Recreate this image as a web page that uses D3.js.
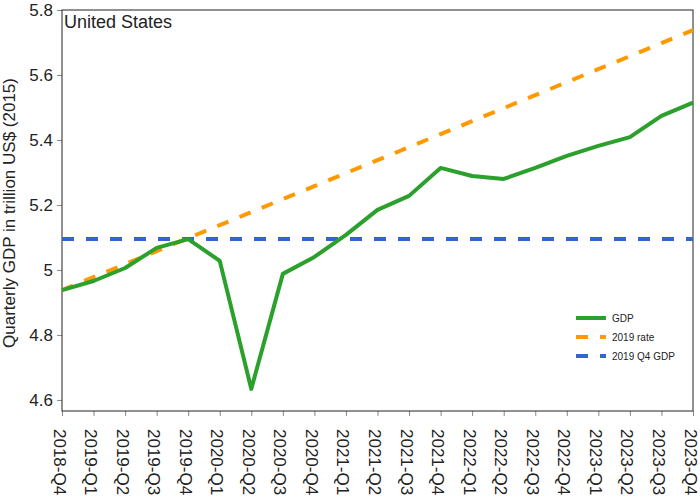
<!DOCTYPE html>
<html><head><meta charset="utf-8">
<script src="https://cdn.jsdelivr.net/npm/d3@7"></script>
<style>body{margin:0;background:#fff;} text{font-family:"Liberation Sans",Arial,sans-serif;}</style>
</head><body>
<svg id="c" width="700" height="500"></svg>
<script>
const quarters = ["2018-Q4","2019-Q1","2019-Q2","2019-Q3","2019-Q4","2020-Q1","2020-Q2","2020-Q3","2020-Q4","2021-Q1","2021-Q2","2021-Q3","2021-Q4","2022-Q1","2022-Q2","2022-Q3","2022-Q4","2023-Q1","2023-Q2","2023-Q3","2023-Q4"];
const gdp = [4.938,4.966,5.006,5.068,5.095,5.028,4.634,4.988,5.040,5.108,5.185,5.228,5.314,5.289,5.280,5.314,5.351,5.382,5.409,5.474,5.515];
const rate2019 = [4.938,4.978,5.018,5.058,5.098,5.138,5.178,5.218,5.258,5.298,5.338,5.378,5.418,5.458,5.498,5.538,5.578,5.618,5.658,5.698,5.738];
const q4GDP = 5.095;
const yTicks = [4.6,4.8,5,5.2,5.4,5.6,5.8];
const seriesNames = ["GDP","2019 rate","2019 Q4 GDP"];
const colors = ["#2ca02c","#ff9900","#3366cc"];

const svg = d3.select("#c");
const L=62,R=693,T=10,B=411;
const x = d3.scalePoint().domain(quarters).range([L,R]);
const y = d3.scaleLinear().domain([4.566,5.8]).range([B,T]);
const ink="#222";

// axes
const ya = svg.append("g").attr("transform",`translate(${L},0)`).call(d3.axisLeft(y).tickValues(yTicks).tickFormat(d3.format("")).tickSize(5).tickPadding(4));
ya.select(".domain").remove();
ya.selectAll(".tick line").attr("stroke","#888");
ya.selectAll("text").attr("font-size",17).attr("fill",ink).attr("font-family","Liberation Sans, Arial, sans-serif");

const xa = svg.append("g").attr("transform",`translate(0,${B})`).call(d3.axisBottom(x).tickSize(5));
xa.select(".domain").remove();
xa.selectAll(".tick line").attr("stroke","#888");
xa.selectAll("text").attr("font-size",17).attr("fill",ink).attr("font-family","Liberation Sans, Arial, sans-serif")
  .attr("y",0).attr("dy","9").attr("transform","translate(0,18) rotate(90)").attr("text-anchor","start").attr("x",0);

// frame
svg.append("rect").attr("x",L).attr("y",T).attr("width",R-L).attr("height",B-T).attr("fill","none").attr("stroke",ink).attr("stroke-width",1);

const line = d3.line().x((d,i)=>x(quarters[i])).y(d=>y(d));
svg.append("line").attr("x1",L).attr("x2",R).attr("y1",y(q4GDP)).attr("y2",y(q4GDP))
  .attr("stroke",colors[2]).attr("stroke-width",4).attr("stroke-dasharray","12,12");
svg.append("path").attr("d",line(rate2019)).attr("fill","none").attr("stroke",colors[1]).attr("stroke-width",4).attr("stroke-dasharray","12,12");
svg.append("path").attr("d",line(gdp)).attr("fill","none").attr("stroke",colors[0]).attr("stroke-width",4).attr("stroke-linejoin","round");

// title
svg.append("text").attr("x",64).attr("y",28).attr("font-size",18).attr("fill",ink).text("United States");
// y label
svg.append("text").attr("transform","translate(15,213) rotate(-90)").attr("text-anchor","middle").attr("font-size",17).attr("fill",ink).text("Quarterly GDP in trillion US$ (2015)");

// legend
const lg = svg.append("g");
seriesNames.forEach((n,i)=>{
  const yy = 318 + i*19;
  lg.append("line").attr("x1",576).attr("x2",606).attr("y1",yy).attr("y2",yy).attr("stroke",colors[i]).attr("stroke-width",4)
    .attr("stroke-dasharray", i===0?null:"12,12");
  lg.append("text").attr("x",612).attr("y",yy).attr("dy","0.35em").attr("font-size",10).attr("fill",ink).text(n);
});
</script>
</body></html>
